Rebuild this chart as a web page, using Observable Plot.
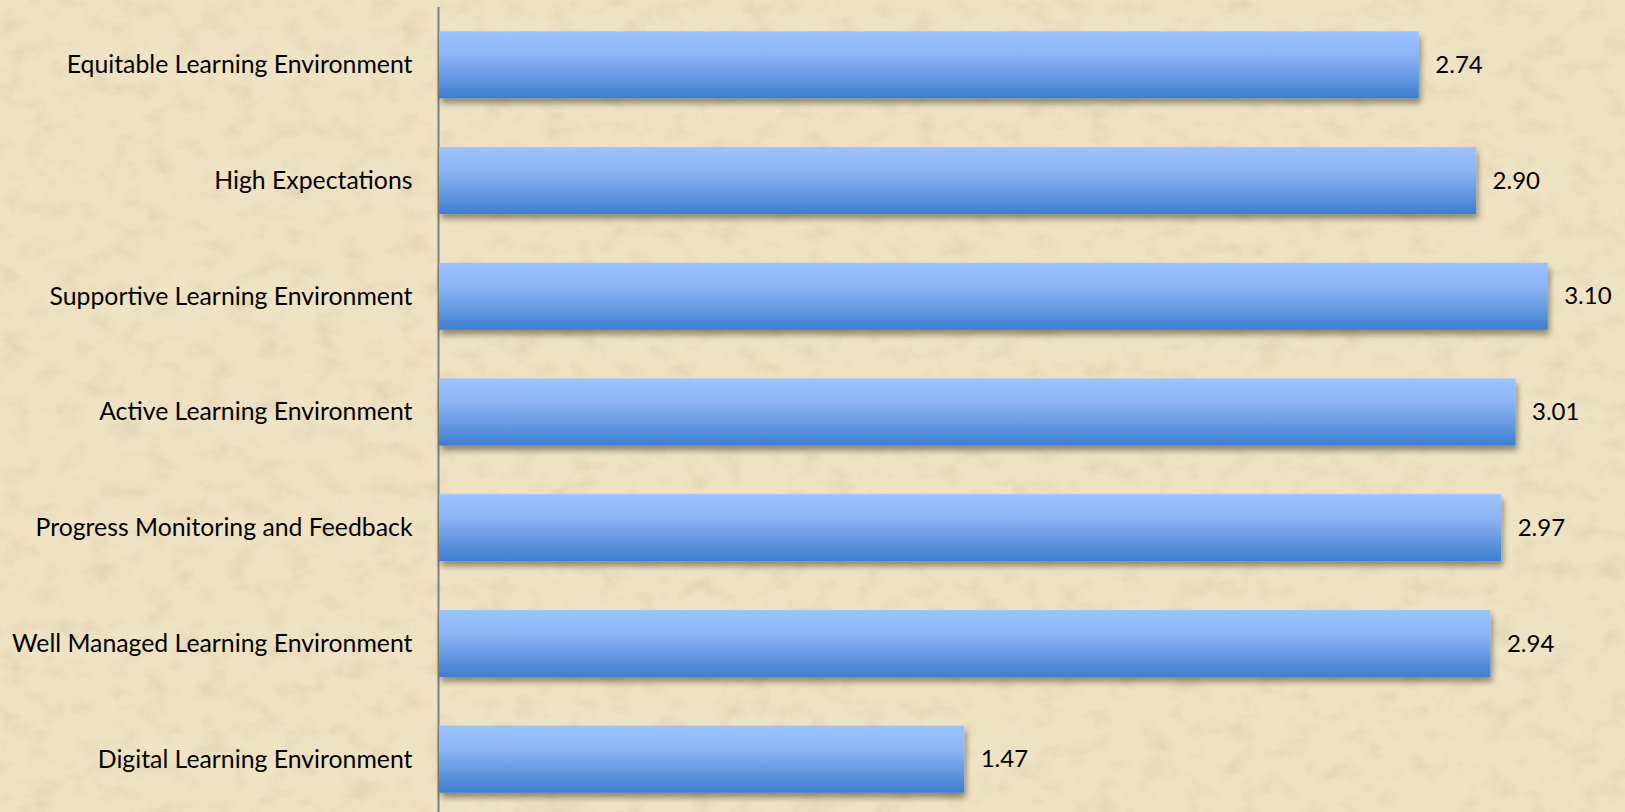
<!DOCTYPE html>
<html>
<head>
<meta charset="utf-8">
<script src="https://cdn.jsdelivr.net/npm/d3@7"></script>
<script src="https://cdn.jsdelivr.net/npm/@observablehq/plot@0.6"></script>
<style>
  html, body { margin: 0; padding: 0; background: #EEE0BF; overflow: hidden; }
  #chart svg { display: block; }
</style>
</head>
<body>
<div id="chart"></div>
<script>
const categories = [
  "Equitable Learning Environment",
  "High Expectations",
  "Supportive Learning Environment",
  "Active Learning Environment",
  "Progress Monitoring and Feedback",
  "Well Managed Learning Environment",
  "Digital Learning Environment"
];
const values = [2.74, 2.90, 3.10, 3.01, 2.97, 2.94, 1.47];

const data = categories.map((c, i) => ({category: c, value: values[i]}));

const font = "Lato, 'Open Sans', sans-serif";

const chart = Plot.plot({
  width: 1625,
  height: 812,
  marginLeft: 438,
  marginRight: 0,
  marginTop: 0,
  marginBottom: 0,
  style: {background: "transparent", fontFamily: font, color: "#000"},
  x: {domain: [0, 3.316], axis: null},
  y: {domain: categories, range: [7, 817], round: false, paddingInner: 0.421, paddingOuter: 0.21, axis: null},
  marks: [
    () => {
      const ns = "http://www.w3.org/2000/svg";
      const g = document.createElementNS(ns, "g");
      g.innerHTML = `
        <defs>
          <linearGradient id="barGrad" x1="0" y1="0" x2="0" y2="1">
            <stop offset="0" stop-color="#9CC2FF"/>
            <stop offset="0.35" stop-color="#8DB5F5"/>
            <stop offset="1" stop-color="#3E7ECF"/>
          </linearGradient>
          <filter id="shadow" x="-5%" y="-20%" width="110%" height="160%">
            <feGaussianBlur in="SourceAlpha" stdDeviation="3"/>
            <feOffset dx="2" dy="5" result="b"/>
            <feComponentTransfer><feFuncA type="linear" slope="0.4"/></feComponentTransfer>
            <feMerge><feMergeNode/><feMergeNode in="SourceGraphic"/></feMerge>
          </filter>
          <filter id="paper" x="0" y="0" width="100%" height="100%">
            <feTurbulence type="fractalNoise" baseFrequency="0.035 0.05" numOctaves="4" seed="3" result="n"/>
            <feColorMatrix in="n" type="matrix" values="0 0 0 0 0.62  0 0 0 0 0.52  0 0 0 0 0.32  0 0 0 0.9 -0.42" result="c"/>
            <feComposite in="c" in2="SourceGraphic" operator="atop"/>
          </filter>
        </defs>
        <rect x="0" y="0" width="1625" height="812" fill="#F0E3C3" filter="url(#paper)"/>`;
      return g;
    },
    Plot.ruleX([0], {stroke: "#7F7F7F", strokeWidth: 2, insetTop: 7}),
    Plot.barX(data, {
      x: "value",
      y: "category",
      fill: "url(#barGrad)",
      insetLeft: 1
    }),
    Plot.text(data, {
      x: 0,
      y: "category",
      text: "category",
      textAnchor: "end",
      dx: -26,
      fontSize: 24.8,
      fill: "#000"
    }),
    Plot.text(data, {
      x: "value",
      y: "category",
      text: d => d.value.toFixed(2),
      textAnchor: "start",
      dx: 16,
      fontSize: 24,
      fill: "#000"
    })
  ]
});

d3.select(chart).selectAll("g[aria-label='bar'] rect").attr("filter", "url(#shadow)");
document.getElementById("chart").appendChild(chart);
</script>
</body>
</html>
